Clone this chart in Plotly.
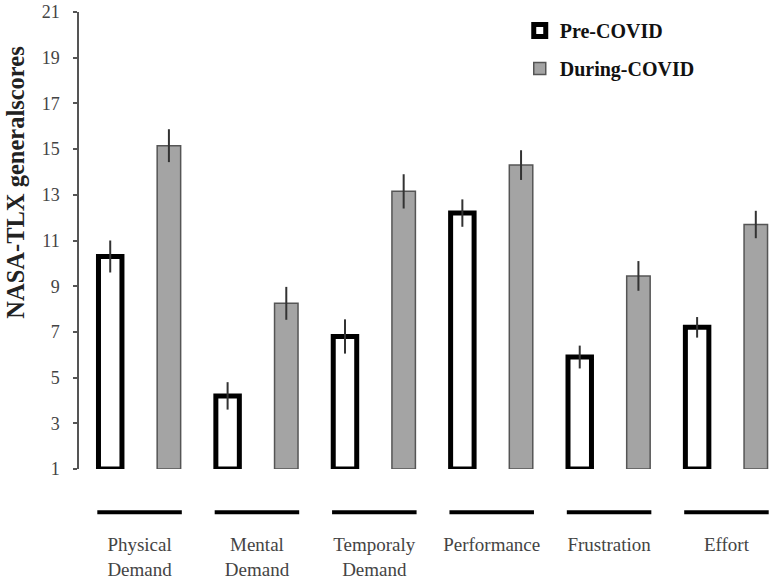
import plotly.graph_objects as go

# ---- data ----
categories = ["Physical<br>Demand", "Mental<br>Demand", "Temporaly<br>Demand",
              "Performance", "Frustration", "Effort"]
pre_covid = [10.3, 4.2, 6.8, 12.2, 5.9, 7.2]
pre_covid_err = [0.7, 0.6, 0.75, 0.6, 0.5, 0.45]
during_covid = [15.15, 8.25, 13.15, 14.3, 9.45, 11.7]
during_covid_err = [0.72, 0.72, 0.75, 0.65, 0.65, 0.6]
y_ticks = [1, 3, 5, 7, 9, 11, 13, 15, 17, 19, 21]
y_min, y_max = 1, 21

SERIF = "Liberation Serif, Times New Roman, serif"

fig = go.Figure()
fig.add_trace(go.Bar(
    name="<b>Pre-COVID</b>", x=categories,
    y=[v - y_min for v in pre_covid], base=y_min,
    marker=dict(color="white", line=dict(color="black", width=5)),
    error_y=dict(type="data", array=pre_covid_err, color="#333333",
                 thickness=2, width=0),
    legendgroup="a",
))
fig.add_trace(go.Bar(
    name="<b>During-COVID</b>", x=categories,
    y=[v - y_min for v in during_covid], base=y_min,
    marker=dict(color="#a4a4a4", line=dict(color="#555555", width=1.5)),
    error_y=dict(type="data", array=during_covid_err, color="#333333",
                 thickness=2, width=0),
    legendgroup="b",
))

# short black lines under each category
for i in range(len(categories)):
    fig.add_shape(type="line", xref="x", yref="paper",
                  x0=i - 0.36, x1=i + 0.36, y0=-0.0944, y1=-0.0944,
                  line=dict(color="black", width=4))

fig.add_annotation(text="<b>NASA-TLX generalscores</b>", xref="paper", yref="paper",
                   x=-0.092, y=0.627, xanchor="center", yanchor="middle",
                   textangle=-90, showarrow=False,
                   font=dict(family=SERIF, size=24.5, color="#222222"))

fig.update_layout(
    width=772, height=580,
    margin=dict(l=79, r=0, t=12, b=109),
    paper_bgcolor="white", plot_bgcolor="white",
    barmode="group", bargap=0, bargroupgap=0.6,
    showlegend=True,
    legend=dict(x=0.636, y=1.002, xanchor="left", yanchor="top",
                font=dict(family=SERIF, size=20, color="#111111"),
                tracegroupgap=9, bgcolor="rgba(0,0,0,0)", traceorder="grouped"),
    font=dict(family=SERIF),
)
fig.update_xaxes(range=[-0.516, 5.388], showline=False, showgrid=False,
                 ticks="", ticklabelstandoff=62,
                 tickfont=dict(family=SERIF, size=19, color="#444444"))
fig.update_yaxes(range=[y_min, y_max], tickvals=y_ticks, showgrid=False,
                 zeroline=False, showline=True, linecolor="#555555", linewidth=1.5,
                 ticks="outside", ticklen=4, tickcolor="#555555", tickwidth=1.5,
                 ticklabelstandoff=10,
                 tickfont=dict(family=SERIF, size=18, color="#444444"))

fig.write_html("out.html", config={"displayModeBar": False},
               post_script="document.body.style.margin='0';")
